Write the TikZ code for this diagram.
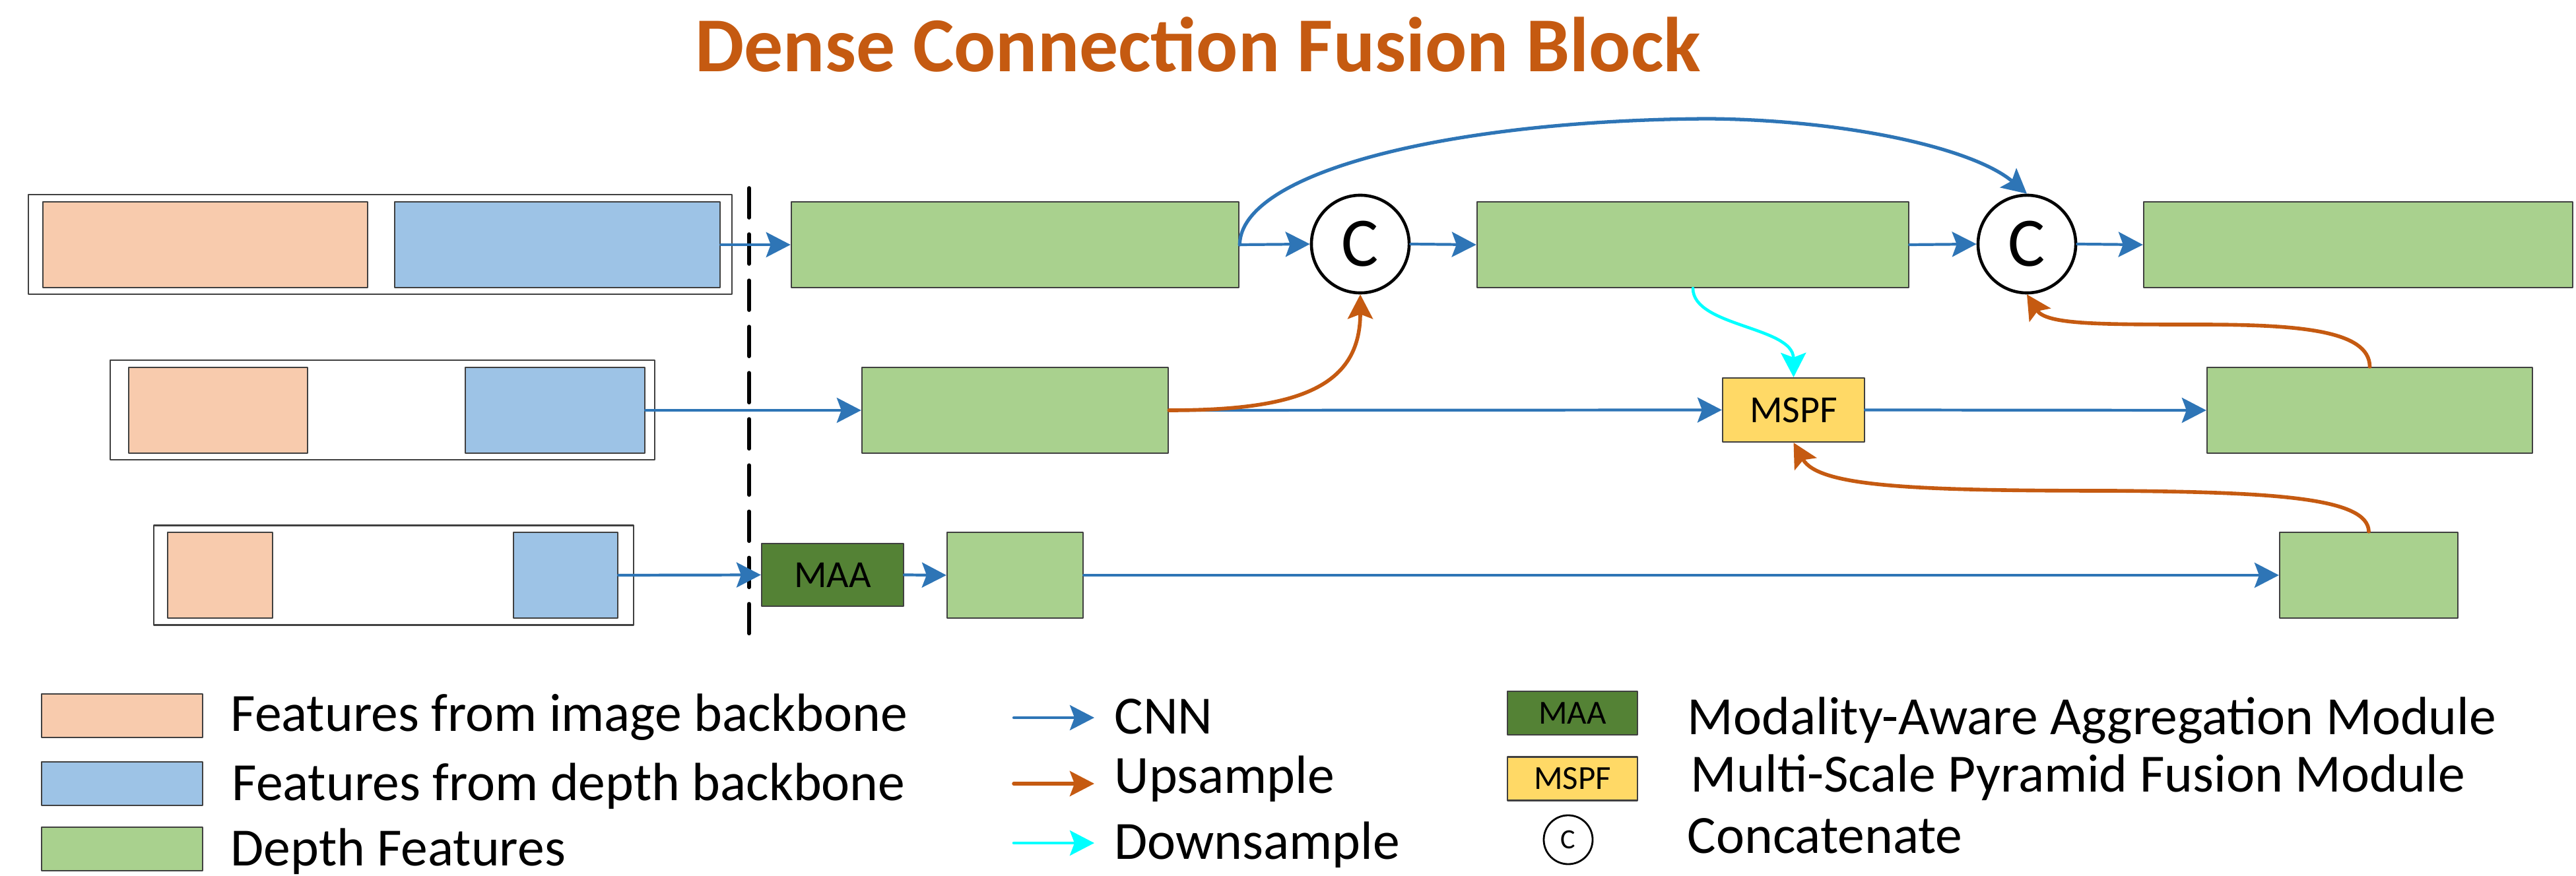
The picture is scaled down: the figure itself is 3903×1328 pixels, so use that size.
\documentclass[tikz,border=0pt]{standalone}
\usepackage{fontspec}
\setmainfont{Carlito}
\usetikzlibrary{arrows.meta}
\definecolor{imgfeat}{HTML}{F8CBAD}
\definecolor{depfeat}{HTML}{9DC3E6}
\definecolor{dfeat}{HTML}{A9D18E}
\definecolor{maagreen}{HTML}{548235}
\definecolor{mspfyellow}{HTML}{FFD966}
\definecolor{cnnblue}{HTML}{2E75B6}
\definecolor{uporange}{HTML}{C55A11}
\definecolor{downcyan}{HTML}{00FFFF}

\begin{document}
\begin{tikzpicture}[x=0.01cm,y=-0.01cm,line cap=round,line join=round,
  box/.style={draw=black!75,line width=0.6pt,inner sep=0pt,minimum height=1.30cm},
  wrap/.style={draw=black!75,line width=0.6pt,fill=white,inner sep=0pt,minimum height=1.51cm},
  cat/.style={draw=black,line width=1.3pt,circle,fill=white,inner sep=0pt,minimum size=1.48cm,font=\fontsize{30}{31}\selectfont},
  tip/.style={-{Stealth[length=0.37cm,width=0.38cm,inset=0.07cm]}},
  cnn/.style={tip,cnnblue,line width=1.2pt},
  up/.style={tip,uporange,line width=1.6pt},
  down/.style={tip,downcyan,line width=1.3pt},
  txt/.style={anchor=base west,inner sep=0pt,font=\fontsize{23.2}{27}\selectfont}]
  \useasboundingbox (0,0) rectangle (3903,1328);
  \node[anchor=base,inner sep=0pt,text=uporange,font=\fontsize{33.5}{38}\selectfont\bfseries] (title) at (1815,109) {Dense Connection Fusion Block};
  % backbone features
  \node[wrap,minimum width=10.66cm] (w1) at (576,370.5) {};
  \node[box,fill=imgfeat,minimum width=4.92cm] (o1) at (311,371) {};
  \node[box,fill=depfeat,minimum width=4.93cm] (b1) at (844.5,371) {};
  \node[wrap,minimum width=8.25cm] (w2) at (579.5,621.5) {};
  \node[box,fill=imgfeat,minimum width=2.71cm] (o2) at (330.5,622) {};
  \node[box,fill=depfeat,minimum width=2.72cm] (b2) at (841,622) {};
  \node[wrap,minimum width=7.27cm] (w3) at (596.5,872) {};
  \node[box,fill=imgfeat,minimum width=1.59cm] (o3) at (333.5,872) {};
  \node[box,fill=depfeat,minimum width=1.58cm] (b3) at (857,872) {};
  \draw[line width=1.6pt,dash pattern=on 0.45cm off 0.25cm] (1135,285) -- (1135,970);
  % depth features
  \node[box,fill=dfeat,minimum width=6.78cm] (g1) at (1538,371) {};
  \node[cat] (c1) at (2061,370) {C};
  \node[box,fill=dfeat,minimum width=6.54cm] (g2) at (2565,371) {};
  \node[cat] (c2) at (3071,370) {C};
  \node[box,fill=dfeat,minimum width=6.50cm] (g3) at (3573,371) {};
  \node[box,fill=dfeat,minimum width=4.64cm] (g4) at (1538,622) {};
  \node[box,fill=mspfyellow,minimum width=2.15cm,minimum height=0.97cm,font=\fontsize{16.5}{18}\selectfont] (mspf) at (2717.5,621.5) {MSPF};
  \node[box,fill=dfeat,minimum width=4.93cm] (g5) at (3590.5,622) {};
  \node[box,fill=maagreen,minimum width=2.15cm,minimum height=0.95cm,font=\fontsize{16.5}{18}\selectfont] (maa) at (1261.5,871.5) {MAA};
  \node[box,fill=dfeat,minimum width=2.06cm] (g6) at (1538,872) {};
  \node[box,fill=dfeat,minimum width=2.70cm] (g7) at (3589,872) {};
  % connections
  \draw[cnn] (b1.east) -- (g1.west);
  \draw[cnn] (g1.east) -- (c1.west);
  \draw[cnn] (c1.east) -- (g2.west);
  \draw[cnn] (g2.east) -- (c2.west);
  \draw[cnn] (c2.east) -- (g3.west);
  \coordinate (arc) at (2589,180);
  \draw[cnn,line width=1.5pt] (g1.east) .. controls (1880,260) and (2200,182) .. (arc)
    .. controls (2800,182) and (2990,225) .. (c2.north);
  \draw[cnn] (b2.east) -- (g4.west);
  \draw[cnn] (g4.east) -- (mspf.west);
  \draw[cnn] (mspf.east) -- (g5.west);
  \draw[up] (g4.east) .. controls (1960,622) and (2061,590) .. (c1.south);
  \draw[down] (g2.south) .. controls (2565,495) and (2717,495) .. (mspf.north);
  \coordinate (up1) at (3330,492);
  \draw[up] (g5.north) .. controls (3590,500) and (3480,492) .. (up1)
    .. controls (3180,492) and (3100,492) .. (c2.south);
  \coordinate (up2) at (3200,744);
  \draw[up] (g7.north) .. controls (3588,755) and (3450,746) .. (up2)
    .. controls (2900,744) and (2755,738) .. (mspf.south);
  \draw[cnn] (b3.east) -- (maa.west);
  \draw[cnn] (maa.east) -- (g6.west);
  \draw[cnn] (g6.east) -- (g7.west);
  % legend
  \node[box,fill=imgfeat,minimum width=2.44cm,minimum height=0.66cm] (lo) at (185,1085) {};
  \node[txt] (lot) at (349,1108) {Features from image backbone};
  \node[box,fill=depfeat,minimum width=2.44cm,minimum height=0.66cm] (lb) at (185,1188) {};
  \node[txt] (lbt) at (351,1213) {Features from depth backbone};
  \node[box,fill=dfeat,minimum width=2.44cm,minimum height=0.66cm] (lg) at (185,1287) {};
  \node[txt] (lgt) at (349,1312) {Depth Features};
  \coordinate (lcnn0) at (1536,1088);
  \coordinate (lcnn1) at (1658,1088);
  \draw[cnn] (lcnn0) -- (lcnn1);
  \node[txt] (lcnnt) at (1688,1112) {CNN};
  \coordinate (lup0) at (1536,1188);
  \coordinate (lup1) at (1658,1188);
  \draw[up] (lup0) -- (lup1);
  \node[txt] (lupt) at (1688,1202) {Upsample};
  \coordinate (ldn0) at (1536,1278);
  \coordinate (ldn1) at (1658,1278);
  \draw[down] (ldn0) -- (ldn1);
  \node[txt] (ldnt) at (1688,1302) {Downsample};
  \node[box,fill=maagreen,minimum width=1.97cm,minimum height=0.66cm,font=\fontsize{14.5}{16}\selectfont] (lmaa) at (2382.5,1081) {MAA};
  \node[txt] (lmaat) at (2556,1113) {Modality-Aware Aggregation Module};
  \node[box,fill=mspfyellow,minimum width=1.97cm,minimum height=0.66cm,font=\fontsize{14.5}{16}\selectfont] (lmspf) at (2382.5,1180.5) {MSPF};
  \node[txt] (lmspft) at (2561,1200) {Multi-Scale Pyramid Fusion Module};
  \node[cat,minimum size=0.74cm,line width=0.8pt,font=\fontsize{12}{12}\selectfont] (lc) at (2376,1273) {C};
  \node[txt] (lct) at (2556,1293) {Concatenate};
\end{tikzpicture}
\end{document}
